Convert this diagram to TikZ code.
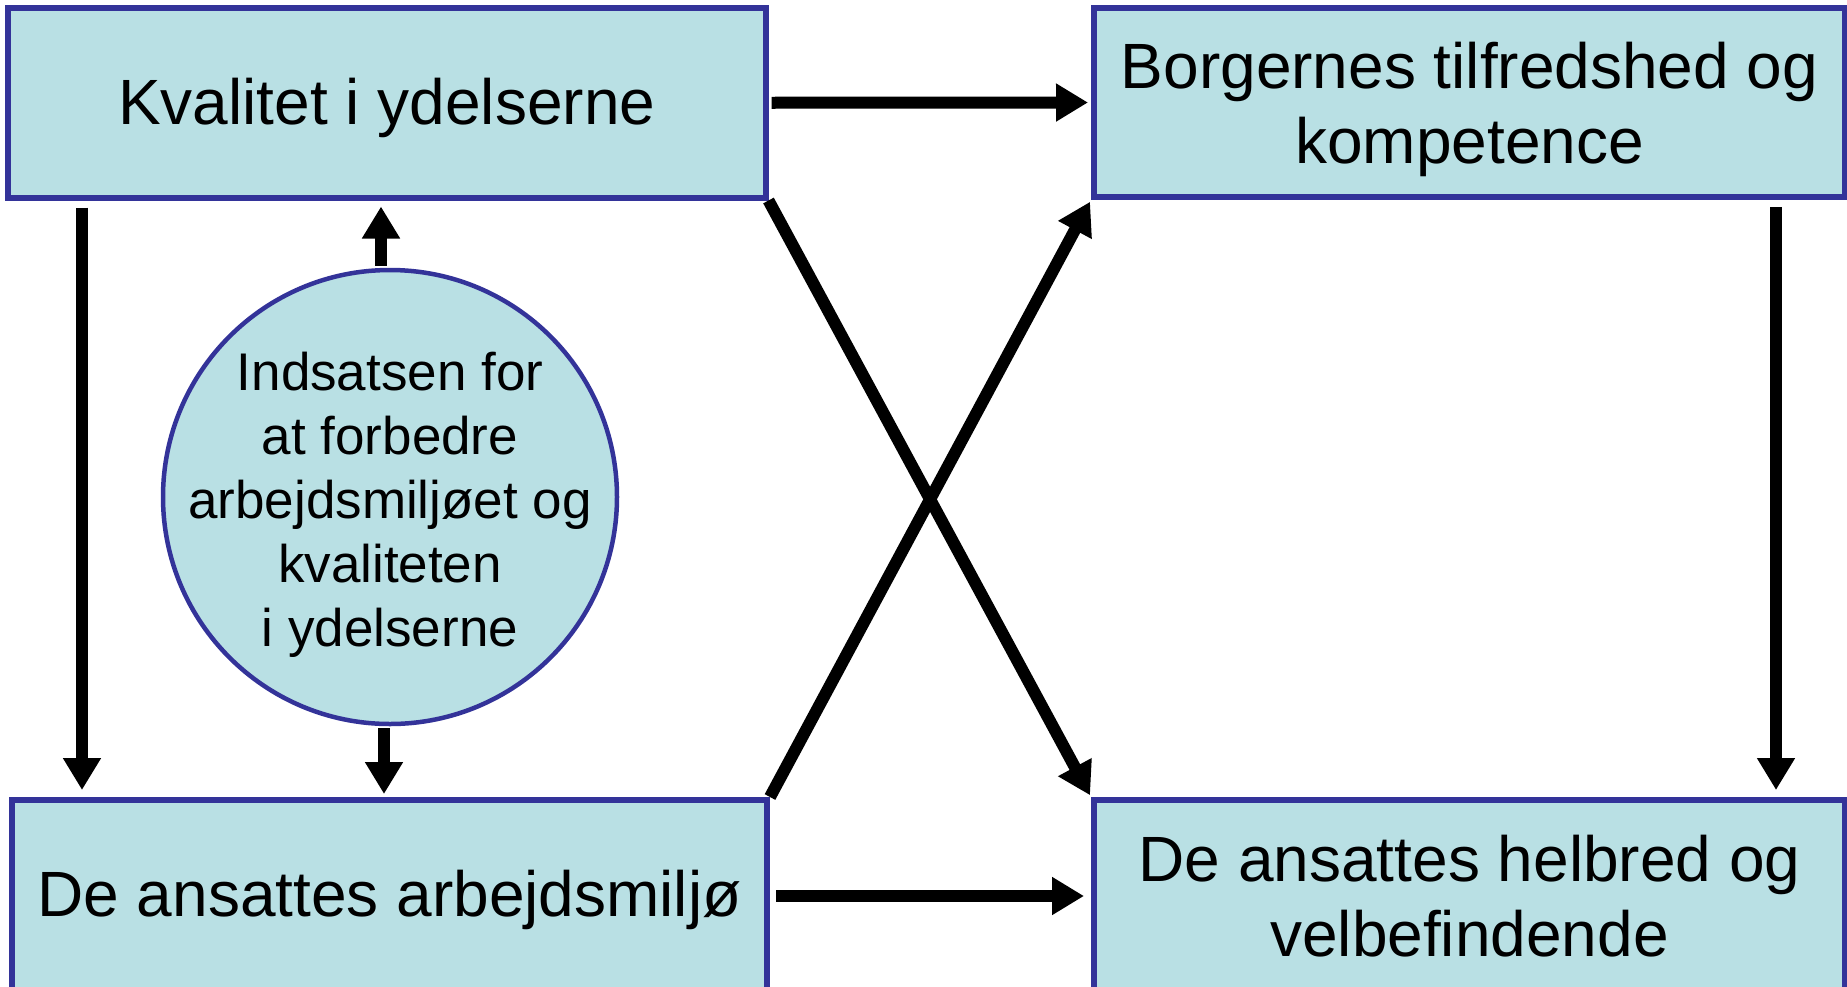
\documentclass[tikz,border=0pt]{standalone}
\usepackage{fontspec}
\setmainfont{Liberation Sans}
\usetikzlibrary{arrows.meta,calc}
\definecolor{boxfill}{RGB}{185,224,228}
\definecolor{boxline}{RGB}{51,51,153}
\begin{document}
\begin{tikzpicture}[x=1pt,y=-1pt,
  box/.style={draw=boxline,fill=boxfill,line width=6pt,rectangle,inner sep=0pt},
  boxtext/.style={inner sep=0pt,align=center,font=\fontsize{64}{75}\selectfont},
  bubble/.style={draw=boxline,fill=boxfill,line width=4.5pt,circle,inner sep=0pt,minimum size=454pt},
  bubbletext/.style={inner sep=0pt,align=center,font=\fontsize{53}{64}\selectfont},
  arr/.style={line width=12pt,-{Triangle[length=32pt,width=36pt]}}]
\useasboundingbox (0,0) rectangle (1847,986);
\fill[white] (0,0) rectangle (1847,986);
\node[box,minimum width=757.5pt,minimum height=189.5pt] (k) at (386.75,102.75) {};
\node[box,minimum width=751pt,minimum height=189pt] (b) at (1469.5,102.5) {};
\node[box,minimum width=755pt,minimum height=192pt] (a) at (389.5,896) {};
\node[box,minimum width=751pt,minimum height=192pt] (h) at (1469.5,896) {};
\node[bubble] (c) at (390,497) {};
\node[boxtext] (kt) at ([yshift=-5pt]k.center) {Kvalitet i ydelserne};
\node[boxtext] (bt) at ([yshift=-7pt]b.center) {Borgernes tilfredshed og\\kompetence};
\node[boxtext] (at) at ([yshift=-4pt]a.center) {De ansattes arbejdsmiljø};
\node[boxtext] (ht) at (h.center) {De ansattes helbred og\\velbefindende};
\node[bubbletext] (ct) at ([yshift=-8pt]c.center) {Indsatsen for\\at forbedre\\arbejdsmiljøet og\\kvaliteten\\i ydelserne};
\coordinate (kl) at ([xshift=77pt]k.south west);
\coordinate (al) at ([xshift=73pt]a.north west);
\coordinate (br) at ([xshift=-72pt]b.south east);
\coordinate (hr) at ([xshift=-72pt]h.north east);
\coordinate (cu) at ([xshift=-9pt]c.north);
\coordinate (cd) at ([xshift=-6pt]c.south);
\draw[arr,shorten <=3pt,shorten >=3pt] (k.east) -- (b.west);
\draw[arr,shorten <=6pt,shorten >=7pt] (a.east) -- (h.west);
\draw[arr,shorten <=7pt,shorten >=7pt] (kl) -- (al);
\draw[arr,shorten <=7pt,shorten >=7pt] (br) -- (hr);
\draw[arr,shorten <=2pt,shorten >=6pt] (cu) -- (cu |- k.south);
\draw[arr,shorten <=2pt,shorten >=3pt] (cd) -- (cd |- a.north);
\draw[arr,shorten >=2pt] (k.south east) -- (h.north west);
\draw[arr,shorten >=2pt] (a.north east) -- (b.south west);
\end{tikzpicture}
\end{document}
